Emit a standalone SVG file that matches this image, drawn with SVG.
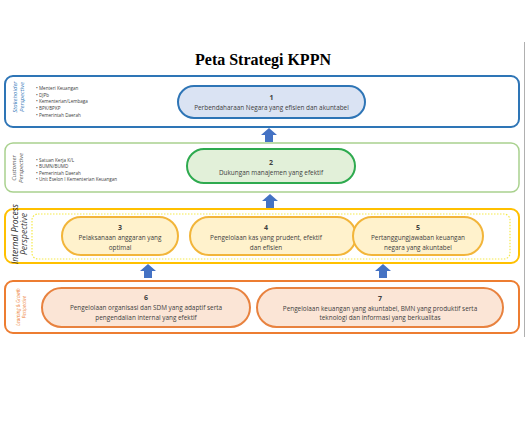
<svg xmlns="http://www.w3.org/2000/svg" width="526" height="436" viewBox="0 0 526 436">
<defs>
<style>
.t{font-family:"Open Sans","Noto Sans",sans-serif;fill:#404040;text-anchor:middle;font-size:6.4px}
.n{font-weight:bold;font-size:7px}
.b{font-family:"Open Sans","Noto Sans",sans-serif;fill:#404040;font-size:4.6px}
.side{font-family:"Open Sans","Noto Sans",sans-serif;font-style:italic;text-anchor:middle}
.arrow{fill:#4472C4}
</style>
<path id="up" d="M0,0 L8,7 L4,7 L4,14 L-4,14 L-4,7 L-8,7 Z"/>
</defs>
<rect width="526" height="436" fill="#ffffff"/>
<line x1="524.5" y1="42" x2="524.5" y2="337" stroke="#b0b0b0" stroke-width="1"/>
<text x="263" y="65" font-family="'Liberation Serif',serif" font-weight="bold" font-size="16" fill="#000" text-anchor="middle">Peta Strategi KPPN</text>

<g id="stakeholder">
<rect x="5" y="76" width="514" height="51" rx="8" fill="#fff" stroke="#2E75B6" stroke-width="2"/>
<text class="side" font-size="6" fill="#2E75B6" transform="translate(17,97) rotate(-90)">Stakeholder</text>
<text class="side" font-size="6" fill="#2E75B6" transform="translate(24,97) rotate(-90)">Perspective</text>
<text class="b" x="36" y="90">• Menteri Keuangan</text>
<text class="b" x="36" y="96.7">• DJPb</text>
<text class="b" x="36" y="103.4">• Kementerian/Lembaga</text>
<text class="b" x="36" y="110.1">• BPK/BPKP</text>
<text class="b" x="36" y="116.8">• Pemerintah Daerah</text>
</g>
<g id="node1">
<rect x="178" y="86" width="187" height="32" rx="16" fill="#DAE3F3" stroke="#2E75B6" stroke-width="2"/>
<text class="t n" x="271.5" y="99.5">1</text>
<text class="t" x="271.5" y="109.5">Perbendaharaan Negara yang efisien dan akuntabel</text>
</g>

<g id="customer">
<rect x="5" y="143" width="514" height="49" rx="8" fill="#fff" stroke="#A9D18E" stroke-width="1.5"/>
<text class="side" font-size="6" fill="#505050" transform="translate(16,168) rotate(-90)">Customer</text>
<text class="side" font-size="6" fill="#505050" transform="translate(23,168) rotate(-90)">Perspective</text>
<text class="b" x="36" y="161.5">• Satuan Kerja K/L</text>
<text class="b" x="36" y="168">• BUMN/BUMD</text>
<text class="b" x="36" y="174.5">• Pemerintah Daerah</text>
<text class="b" x="36" y="181">• Unit Eselon I Kementerian Keuangan</text>
</g>
<g id="node2">
<rect x="187" y="149" width="168" height="34" rx="17" fill="#E2F0D9" stroke="#2EAA4F" stroke-width="2"/>
<text class="t n" x="271" y="165">2</text>
<text class="t" x="271" y="175">Dukungan manajemen yang efektif</text>
</g>

<g id="internal">
<rect x="5" y="209" width="514" height="54" rx="8" fill="#fff" stroke="#FFC000" stroke-width="2"/>
<rect x="32" y="214" width="478" height="45" rx="6" fill="none" stroke="#F5E94A" stroke-width="1.2" stroke-dasharray="1.5,1.5"/>
<text class="side" font-size="8.5" fill="#262626" transform="translate(18,234) rotate(-90)">Internal Process</text>
<text class="side" font-size="8.5" fill="#404040" transform="translate(27,234) rotate(-90)">Perspective</text>
</g>
<g id="node3">
<rect x="62" y="217" width="116" height="38" rx="19" fill="#FFF2CC" stroke="#F2B53A" stroke-width="2"/>
<text class="t n" x="120" y="230">3</text>
<text class="t" x="120" y="240">Pelaksanaan anggaran yang</text>
<text class="t" x="120" y="250">optimal</text>
</g>
<g id="node4">
<rect x="190" y="217" width="166" height="38" rx="19" fill="#FFF2CC" stroke="#F2B53A" stroke-width="2"/>
<text class="t n" x="266" y="230">4</text>
<text class="t" x="266" y="240">Pengelolaan kas yang prudent, efektif</text>
<text class="t" x="266" y="250">dan efisien</text>
</g>
<g id="node5">
<rect x="353" y="217" width="130" height="38" rx="19" fill="#FFF2CC" stroke="#F2B53A" stroke-width="2"/>
<text class="t n" x="418" y="230">5</text>
<text class="t" x="418" y="240">Pertanggungjawaban keuangan</text>
<text class="t" x="418" y="250">negara yang akuntabel</text>
</g>

<g id="learning">
<rect x="5" y="281" width="514" height="52" rx="8" fill="#fff" stroke="#ED7D31" stroke-width="2"/>
<text class="side" font-size="4.5" fill="#ED7D31" transform="translate(20,307) rotate(-90)">Learning &amp; Growth</text>
<text class="side" font-size="4.5" fill="#ED7D31" transform="translate(26,307) rotate(-90)">Perspective</text>
</g>
<g id="node6">
<rect x="42" y="288" width="208" height="39" rx="19.5" fill="#FBE5D6" stroke="#E8823F" stroke-width="2"/>
<text class="t n" x="146" y="300">6</text>
<text class="t" x="146" y="310">Pengelolaan organisasi dan SDM yang adaptif serta</text>
<text class="t" x="146" y="320">pengendalian internal yang efektif</text>
</g>
<g id="node7">
<rect x="257" y="288" width="246" height="39" rx="19.5" fill="#FBE5D6" stroke="#E8823F" stroke-width="2"/>
<text class="t n" x="380" y="301">7</text>
<text class="t" x="380" y="310.5">Pengelolaan keuangan yang akuntabel, BMN yang produktif serta</text>
<text class="t" x="380" y="319.5">teknologi dan informasi yang berkualitas</text>
</g>

<g id="connectors">
<use href="#up" class="arrow" x="269" y="128"/>
<use href="#up" class="arrow" x="270" y="194"/>
<use href="#up" class="arrow" x="148" y="264"/>
<use href="#up" class="arrow" x="383" y="264"/>
</g>
</svg>
